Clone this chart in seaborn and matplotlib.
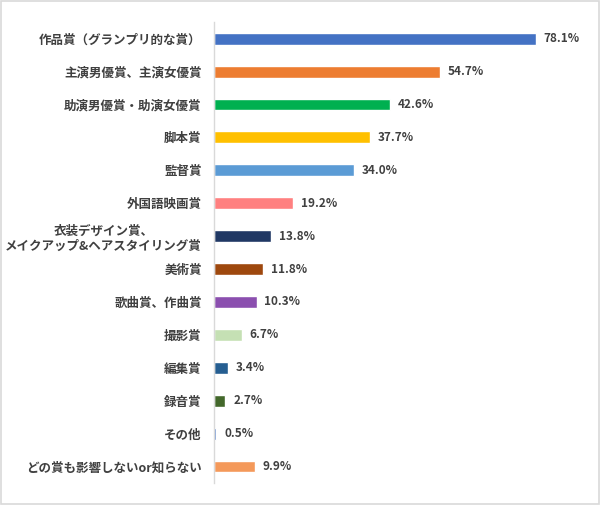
import matplotlib
matplotlib.use("Agg")
import matplotlib.pyplot as plt
import seaborn as sns
import pandas as pd
from matplotlib.patches import Rectangle

categories = [
    "作品賞（グランプリ的な賞）",
    "主演男優賞、主演女優賞",
    "助演男優賞・助演女優賞",
    "脚本賞",
    "監督賞",
    "外国語映画賞",
    "衣装デザイン賞、\nメイクアップ&ヘアスタイリング賞",
    "美術賞",
    "歌曲賞、作曲賞",
    "撮影賞",
    "編集賞",
    "録音賞",
    "その他",
    "どの賞も影響しないor知らない",
]
values = [78.1, 54.7, 42.6, 37.7, 34.0, 19.2, 13.8, 11.8, 10.3, 6.7, 3.4, 2.7, 0.5, 9.9]
colors = ["#4472C4", "#ED7D31", "#00B050", "#FFC000", "#5B9BD5", "#FF8080", "#203864",
          "#9E480E", "#8B4FAF", "#C5E0B4", "#255E91", "#43682B", "#4472C4", "#F4995A"]

sns.set_theme(style="white")
plt.rcParams['font.family'] = ['Noto Sans CJK JP', 'DejaVu Sans']

df = pd.DataFrame({"cat": categories, "val": values})

fig = plt.figure(figsize=(6.0, 5.05), dpi=100)
ax = fig.add_axes([0.357, 0.0436, 0.618, 0.9124])
sns.barplot(data=df, x="val", y="cat", hue="cat", palette=colors, legend=False,
            width=0.36, saturation=1, ax=ax, orient="h")

ax.set_xlim(0, 90)
ax.set_ylim(13.5, -0.5)
ax.set_xlabel("")
ax.set_ylabel("")
ax.set_xticks([])
for s in ["top", "right", "bottom"]:
    ax.spines[s].set_visible(False)
ax.spines["left"].set_color("#D9D9D9")
ax.spines["left"].set_linewidth(1.0)
ax.tick_params(axis="y", length=0, pad=9, labelsize=9, labelcolor="#404040")
for lab in ax.get_yticklabels():
    lab.set_fontweight("bold")
    lab.set_linespacing(1.25)
    lab.set_multialignment("center")

for i, v in enumerate(values):
    ax.text(v + 1.9, i, f"{v:.1f}%", va="center", ha="left", fontsize=8.5,
            fontweight="bold", color="#404040")

fig.patches.append(Rectangle((0.002, 0.002), 0.996, 0.996, transform=fig.transFigure,
                             fill=False, edgecolor="#D9D9D9", linewidth=1.2))

fig.savefig("out.png", dpi=100)
